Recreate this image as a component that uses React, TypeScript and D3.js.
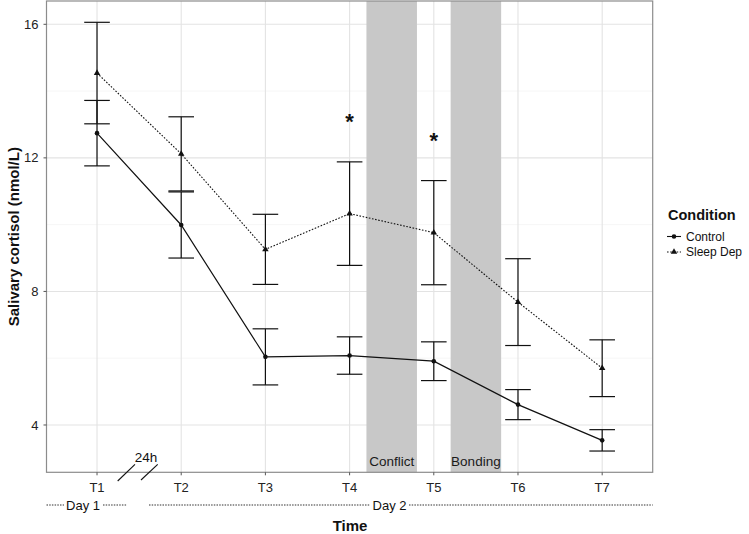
import React from "react";
import * as d3 from "d3";

const timepoints = ["T1", "T2", "T3", "T4", "T5", "T6", "T7"];
const controlMean = [12.74, 9.99, 6.04, 6.08, 5.91, 4.61, 3.54];
const controlErr = [0.98, 0.99, 0.84, 0.56, 0.58, 0.45, 0.32];
const sleepMean = [14.54, 12.12, 9.26, 10.33, 9.76, 7.68, 5.70];
const sleepErr = [1.52, 1.11, 1.05, 1.55, 1.56, 1.3, 0.85];
const yTicks = [4, 8, 12, 16];
const yMinor = [6, 10, 14];
const shadedPhases = [
  { label: "Conflict", from: 4.2, to: 4.8 },
  { label: "Bonding", from: 5.2, to: 5.8 },
];
const significant = [
  { t: 4, y: 13.13 },
  { t: 5, y: 12.56 },
];
const seriesNames = ["Control", "Sleep Dep"];

const W = 749;
const H = 534;
const L = 46.5;
const R = 652.7;
const T = 1;
const B = 472.3;
const FONT = "'Liberation Sans', Arial, Helvetica, sans-serif";

export default function App() {
  const x = d3.scaleLinear().domain([0.4, 7.6]).range([L, R]);
  const y = d3.scaleLinear().domain([2.583, 16.698]).range([B, T]);
  const idx = timepoints.map((_, i) => i + 1);

  const line = d3
    .line<number>()
    .x((_, i) => x(i + 1))
    .y((d) => y(d));

  const triangle = d3.symbol().type(d3.symbolTriangle).size(18)() as string;
  const capHalf = 12.8;

  const errBars = (means: number[], errs: number[], key: string) =>
    means.map((m, i) => {
      const cx = x(i + 1);
      const y1 = y(m + errs[i]);
      const y2 = y(m - errs[i]);
      return (
        <g key={key + i} stroke="#111" strokeWidth={1.2}>
          <line x1={cx} x2={cx} y1={y1} y2={y2} />
          <line x1={cx - capHalf} x2={cx + capHalf} y1={y1} y2={y1} />
          <line x1={cx - capHalf} x2={cx + capHalf} y1={y2} y2={y2} />
        </g>
      );
    });

  const dayDash = { stroke: "#333", strokeWidth: 1.2, strokeDasharray: "1.5,1.2" };

  return (
    <svg
      width={W}
      height={H}
      style={{ position: "absolute", left: 0, top: 0, background: "#fff" }}
      fontFamily={FONT}
    >
      <rect x={0} y={0} width={W} height={H} fill="#fff" />
      {/* grid */}
      {yMinor.map((v) => (
        <line key={"mn" + v} x1={L} x2={R} y1={y(v)} y2={y(v)} stroke="#f0f0f0" strokeWidth={0.6} />
      ))}
      {yTicks.map((v) => (
        <line key={"mj" + v} x1={L} x2={R} y1={y(v)} y2={y(v)} stroke="#e3e3e3" strokeWidth={1.1} />
      ))}
      {idx.map((i) => (
        <line key={"vx" + i} x1={x(i)} x2={x(i)} y1={T} y2={B} stroke="#e3e3e3" strokeWidth={1.1} />
      ))}
      {/* shaded phases */}
      {shadedPhases.map((p) => (
        <g key={p.label}>
          <rect x={x(p.from)} y={T} width={x(p.to) - x(p.from)} height={B - T} fill="#c8c8c8" />
          <text
            x={(x(p.from) + x(p.to)) / 2}
            y={B - 6}
            textAnchor="middle"
            fontSize={13.5}
            fill="#1a1a1a"
          >
            {p.label}
          </text>
        </g>
      ))}
      {/* lines */}
      <path d={line(controlMean) || ""} fill="none" stroke="#111" strokeWidth={1.2} />
      <path
        d={line(sleepMean) || ""}
        fill="none"
        stroke="#111"
        strokeWidth={1.1}
        strokeDasharray="1.6,1.6"
      />
      {errBars(controlMean, controlErr, "c")}
      {errBars(sleepMean, sleepErr, "s")}
      {controlMean.map((m, i) => (
        <circle key={"cp" + i} cx={x(i + 1)} cy={y(m)} r={2.3} fill="#111" />
      ))}
      {sleepMean.map((m, i) => (
        <path key={"sp" + i} d={triangle} transform={`translate(${x(i + 1)},${y(m)})`} fill="#111" />
      ))}
      {/* significance */}
      {significant.map((s) => (
        <text
          key={"sig" + s.t}
          x={x(s.t)}
          y={y(s.y) + 9}
          textAnchor="middle"
          fontSize={22}
          fontWeight="bold"
          fill="#111"
        >
          *
        </text>
      ))}
      {/* panel border */}
      <rect x={L} y={T} width={R - L} height={B - T} fill="none" stroke="#8c8c8c" strokeWidth={1.2} />
      {/* y axis */}
      {yTicks.map((v) => (
        <g key={"yt" + v}>
          <line x1={L - 3} x2={L} y1={y(v)} y2={y(v)} stroke="#555" strokeWidth={1} />
          <text x={L - 8} y={y(v)} dy="0.35em" textAnchor="end" fontSize={13} fill="#222">
            {v}
          </text>
        </g>
      ))}
      {/* x axis */}
      {timepoints.map((t, i) => (
        <g key={"xt" + t}>
          <line x1={x(i + 1)} x2={x(i + 1)} y1={B} y2={B + 3} stroke="#555" strokeWidth={1} />
          <text x={x(i + 1)} y={B + 15} dy="0.35em" textAnchor="middle" fontSize={13} fill="#222">
            {t}
          </text>
        </g>
      ))}
      {/* 24h break */}
      <line x1={117.7} y1={481} x2={135} y2={464.3} stroke="#111" strokeWidth={1.1} />
      <line x1={141} y1={480} x2={157.7} y2={464.3} stroke="#111" strokeWidth={1.1} />
      <text x={146} y={457} dy="0.35em" textAnchor="middle" fontSize={13.5} fill="#111">
        24h
      </text>
      {/* day labels */}
      <line x1={L} x2={64} y1={505} y2={505} {...dayDash} />
      <line x1={103} x2={127} y1={505} y2={505} {...dayDash} />
      <text x={83} y={505} dy="0.35em" textAnchor="middle" fontSize={13} fill="#111">
        Day 1
      </text>
      <line x1={149} x2={370} y1={505} y2={505} {...dayDash} />
      <line x1={409} x2={R} y1={505} y2={505} {...dayDash} />
      <text x={389.5} y={505} dy="0.35em" textAnchor="middle" fontSize={13} fill="#111">
        Day 2
      </text>
      {/* axis titles */}
      <text x={350} y={526} dy="0.35em" textAnchor="middle" fontSize={15} fontWeight="bold" fill="#111">
        Time
      </text>
      <text
        transform={`translate(14,${(T + B) / 2}) rotate(-90)`}
        dy="0.35em"
        textAnchor="middle"
        fontSize={15}
        fontWeight="bold"
        fill="#111"
      >
        Salivary cortisol (nmol/L)
      </text>
      {/* legend */}
      <text x={668} y={215} dy="0.35em" fontSize={14.5} fontWeight="bold" fill="#111">
        Condition
      </text>
      {seriesNames.map((n, i) => {
        const ly = 236.5 + i * 15.5;
        return (
          <g key={"lg" + n}>
            <line
              x1={667}
              x2={681}
              y1={ly}
              y2={ly}
              stroke="#111"
              strokeWidth={1.1}
              strokeDasharray={i === 1 ? "1.6,1.6" : undefined}
            />
            {i === 0 ? (
              <circle cx={674} cy={ly} r={2.3} fill="#111" />
            ) : (
              <path d={triangle} transform={`translate(674,${ly})`} fill="#111" />
            )}
            <text x={686} y={ly} dy="0.35em" fontSize={12} fill="#111">
              {n}
            </text>
          </g>
        );
      })}
    </svg>
  );
}
